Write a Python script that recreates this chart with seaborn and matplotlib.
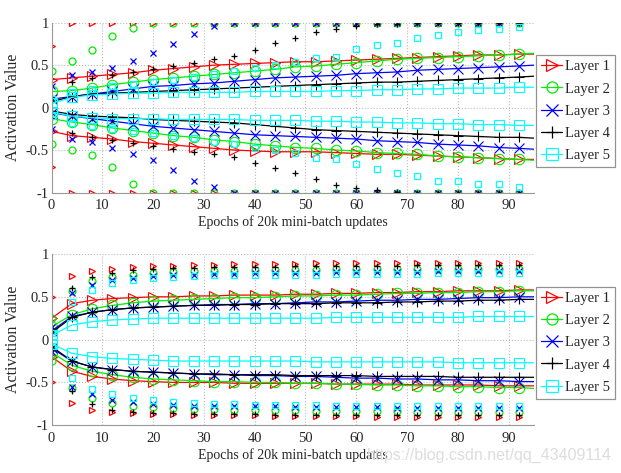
import matplotlib
matplotlib.use("Agg")
import matplotlib.pyplot as plt
from matplotlib.lines import Line2D
import seaborn as sns

# ─── data ───────────────────────────────────────────
LAYERS = ["Layer 1", "Layer 2", "Layer 3", "Layer 4", "Layer 5"]
COLORS = {"Layer 1": "#ff0000", "Layer 2": "#00ee00", "Layer 3": "#0000ff",
          "Layer 4": "#000000", "Layer 5": "#00ffff"}
MARKERS = {"Layer 1": ">", "Layer 2": "o", "Layer 3": "x", "Layer 4": "+", "Layer 5": "s"}

# marker epochs (every 4) ; std lines run on to the axis edge at 95
epochs = [0, 4, 8, 12, 16, 20, 24, 28, 32, 36, 40, 44, 48, 52, 56, 60, 64, 68, 72, 76, 80, 84, 88, 92]
line_epochs = epochs + [95]

# top panel: standard initialization
top_std_hi = {
    "Layer 1": [0.33, 0.35, 0.37, 0.39, 0.41, 0.44, 0.46, 0.48, 0.50, 0.51, 0.52, 0.53, 0.54, 0.54, 0.55, 0.56, 0.57, 0.58, 0.59, 0.60, 0.61, 0.62, 0.62, 0.63, 0.63],
    "Layer 2": [0.19, 0.20, 0.23, 0.27, 0.30, 0.33, 0.35, 0.37, 0.39, 0.41, 0.43, 0.45, 0.48, 0.49, 0.51, 0.53, 0.55, 0.57, 0.58, 0.59, 0.60, 0.61, 0.62, 0.63, 0.64],
    "Layer 3": [0.10, 0.13, 0.16, 0.19, 0.22, 0.25, 0.26, 0.28, 0.29, 0.31, 0.33, 0.35, 0.36, 0.37, 0.38, 0.40, 0.41, 0.42, 0.44, 0.45, 0.46, 0.47, 0.48, 0.49, 0.50],
    "Layer 4": [0.07, 0.13, 0.16, 0.17, 0.18, 0.19, 0.20, 0.21, 0.22, 0.23, 0.24, 0.25, 0.26, 0.27, 0.28, 0.29, 0.30, 0.30, 0.31, 0.32, 0.33, 0.34, 0.35, 0.36, 0.37],
    "Layer 5": [0.05, 0.12, 0.15, 0.16, 0.17, 0.17, 0.18, 0.18, 0.18, 0.18, 0.19, 0.19, 0.19, 0.19, 0.20, 0.20, 0.21, 0.21, 0.22, 0.22, 0.23, 0.23, 0.23, 0.24, 0.24],
}
top_std_lo = {
    "Layer 1": [-0.28, -0.33, -0.35, -0.37, -0.40, -0.42, -0.44, -0.46, -0.48, -0.50, -0.51, -0.52, -0.52, -0.52, -0.53, -0.54, -0.55, -0.55, -0.56, -0.57, -0.58, -0.59, -0.60, -0.61, -0.61],
    "Layer 2": [-0.13, -0.17, -0.20, -0.24, -0.27, -0.30, -0.33, -0.35, -0.38, -0.40, -0.43, -0.45, -0.47, -0.48, -0.50, -0.51, -0.53, -0.54, -0.55, -0.57, -0.58, -0.59, -0.60, -0.61, -0.62],
    "Layer 3": [-0.06, -0.10, -0.13, -0.16, -0.19, -0.22, -0.24, -0.26, -0.28, -0.30, -0.32, -0.33, -0.34, -0.35, -0.36, -0.37, -0.39, -0.40, -0.41, -0.43, -0.44, -0.45, -0.47, -0.48, -0.49],
    "Layer 4": [-0.04, -0.08, -0.10, -0.11, -0.12, -0.14, -0.15, -0.16, -0.17, -0.18, -0.20, -0.22, -0.24, -0.26, -0.27, -0.28, -0.29, -0.30, -0.31, -0.32, -0.33, -0.34, -0.35, -0.35, -0.36],
    "Layer 5": [-0.05, -0.10, -0.12, -0.13, -0.13, -0.13, -0.14, -0.14, -0.14, -0.14, -0.15, -0.15, -0.15, -0.16, -0.16, -0.17, -0.17, -0.18, -0.18, -0.19, -0.19, -0.20, -0.20, -0.21, -0.21],
}
top_pct_hi = {
    "Layer 1": [0.72, 1, 1, 1, 1, 1, 1, 1, 1, 1, 1, 1, 1, 1, 1, 1, 1, 1, 1, 1, 1, 1, 1, 1],
    "Layer 2": [0.43, 0.55, 0.68, 0.84, 0.94, 1, 1, 1, 1, 1, 1, 1, 1, 1, 1, 1, 1, 1, 1, 1, 1, 1, 1, 1],
    "Layer 3": [0.25, 0.38, 0.42, 0.47, 0.55, 0.64, 0.75, 0.87, 0.96, 1, 1, 1, 1, 1, 1, 1, 1, 1, 1, 1, 1, 1, 1, 1],
    "Layer 4": [0.12, 0.30, 0.35, 0.38, 0.42, 0.45, 0.49, 0.52, 0.57, 0.61, 0.68, 0.76, 0.82, 0.89, 0.93, 0.96, 0.98, 0.99, 1, 1, 1, 1, 1, 1],
    "Layer 5": [0.10, 0.18, 0.22, 0.25, 0.28, 0.30, 0.33, 0.36, 0.40, 0.43, 0.47, 0.50, 0.54, 0.58, 0.60, 0.69, 0.74, 0.76, 0.82, 0.86, 0.89, 0.91, 0.93, 0.95],
}
top_pct_lo = {
    "Layer 1": [-0.70, -1, -1, -1, -1, -1, -1, -1, -1, -1, -1, -1, -1, -1, -1, -1, -1, -1, -1, -1, -1, -1, -1, -1],
    "Layer 2": [-0.43, -0.50, -0.56, -0.70, -0.90, -1, -1, -1, -1, -1, -1, -1, -1, -1, -1, -1, -1, -1, -1, -1, -1, -1, -1, -1],
    "Layer 3": [-0.25, -0.37, -0.41, -0.48, -0.55, -0.62, -0.73, -0.86, -0.93, -1, -1, -1, -1, -1, -1, -1, -1, -1, -1, -1, -1, -1, -1, -1],
    "Layer 4": [-0.12, -0.30, -0.35, -0.38, -0.42, -0.45, -0.49, -0.52, -0.55, -0.58, -0.65, -0.71, -0.77, -0.84, -0.91, -0.95, -0.97, -0.99, -1, -1, -1, -1, -1, -1],
    "Layer 5": [-0.10, -0.18, -0.22, -0.25, -0.28, -0.30, -0.33, -0.36, -0.40, -0.43, -0.47, -0.50, -0.54, -0.59, -0.60, -0.66, -0.72, -0.77, -0.81, -0.87, -0.87, -0.90, -0.90, -0.93],
}

# bottom panel: normalized initialization
bot_std_hi = {
    "Layer 1": [0.25, 0.42, 0.46, 0.48, 0.49, 0.50, 0.50, 0.51, 0.51, 0.52, 0.52, 0.52, 0.53, 0.53, 0.54, 0.54, 0.55, 0.55, 0.56, 0.56, 0.57, 0.57, 0.57, 0.58, 0.58],
    "Layer 2": [0.15, 0.29, 0.36, 0.40, 0.43, 0.45, 0.46, 0.47, 0.48, 0.49, 0.49, 0.50, 0.51, 0.51, 0.52, 0.52, 0.53, 0.54, 0.54, 0.55, 0.55, 0.56, 0.56, 0.57, 0.57],
    "Layer 3": [0.10, 0.27, 0.32, 0.35, 0.37, 0.38, 0.39, 0.40, 0.41, 0.41, 0.42, 0.42, 0.43, 0.44, 0.44, 0.45, 0.46, 0.46, 0.47, 0.47, 0.48, 0.49, 0.49, 0.50, 0.50],
    "Layer 4": [0.08, 0.26, 0.32, 0.35, 0.37, 0.38, 0.39, 0.40, 0.40, 0.41, 0.41, 0.42, 0.42, 0.42, 0.43, 0.43, 0.43, 0.44, 0.44, 0.45, 0.45, 0.46, 0.46, 0.47, 0.47],
    "Layer 5": [0.05, 0.17, 0.21, 0.23, 0.24, 0.25, 0.25, 0.25, 0.25, 0.25, 0.25, 0.25, 0.25, 0.25, 0.26, 0.26, 0.26, 0.26, 0.26, 0.26, 0.26, 0.27, 0.27, 0.27, 0.27],
}
bot_std_lo = {
    "Layer 1": [-0.20, -0.37, -0.43, -0.46, -0.48, -0.49, -0.50, -0.50, -0.50, -0.51, -0.51, -0.51, -0.51, -0.51, -0.52, -0.52, -0.52, -0.52, -0.53, -0.53, -0.53, -0.53, -0.54, -0.54, -0.54],
    "Layer 2": [-0.15, -0.30, -0.37, -0.41, -0.44, -0.46, -0.47, -0.48, -0.49, -0.49, -0.50, -0.50, -0.51, -0.51, -0.52, -0.52, -0.53, -0.53, -0.54, -0.54, -0.55, -0.55, -0.56, -0.56, -0.57],
    "Layer 3": [-0.10, -0.25, -0.32, -0.35, -0.37, -0.38, -0.39, -0.40, -0.41, -0.41, -0.42, -0.42, -0.43, -0.43, -0.44, -0.45, -0.45, -0.46, -0.46, -0.47, -0.47, -0.48, -0.48, -0.49, -0.49],
    "Layer 4": [-0.08, -0.25, -0.32, -0.35, -0.37, -0.38, -0.39, -0.40, -0.40, -0.41, -0.41, -0.41, -0.42, -0.42, -0.42, -0.42, -0.43, -0.43, -0.43, -0.43, -0.44, -0.44, -0.44, -0.44, -0.44],
    "Layer 5": [-0.05, -0.16, -0.20, -0.22, -0.23, -0.24, -0.25, -0.25, -0.25, -0.25, -0.25, -0.25, -0.25, -0.26, -0.26, -0.26, -0.26, -0.26, -0.26, -0.26, -0.27, -0.27, -0.27, -0.27, -0.27],
}
bot_pct_hi = {
    "Layer 1": [0.50, 0.74, 0.80, 0.83, 0.85, 0.86, 0.86, 0.87, 0.87, 0.88, 0.88, 0.88, 0.88, 0.89, 0.89, 0.89, 0.89, 0.90, 0.90, 0.90, 0.90, 0.90, 0.90, 0.90],
    "Layer 2": [0.25, 0.57, 0.68, 0.73, 0.76, 0.78, 0.79, 0.80, 0.80, 0.80, 0.81, 0.81, 0.81, 0.81, 0.82, 0.82, 0.82, 0.82, 0.82, 0.83, 0.83, 0.83, 0.83, 0.83],
    "Layer 3": [0.15, 0.55, 0.64, 0.70, 0.72, 0.74, 0.75, 0.76, 0.77, 0.77, 0.78, 0.78, 0.78, 0.78, 0.79, 0.79, 0.79, 0.79, 0.79, 0.80, 0.80, 0.80, 0.80, 0.80],
    "Layer 4": [0.12, 0.60, 0.73, 0.78, 0.81, 0.83, 0.84, 0.84, 0.85, 0.85, 0.85, 0.85, 0.86, 0.86, 0.86, 0.86, 0.86, 0.86, 0.87, 0.87, 0.87, 0.87, 0.87, 0.87],
    "Layer 5": [0.08, 0.44, 0.58, 0.66, 0.70, 0.72, 0.73, 0.74, 0.75, 0.75, 0.76, 0.76, 0.76, 0.76, 0.77, 0.77, 0.77, 0.77, 0.77, 0.78, 0.78, 0.78, 0.78, 0.78],
}
bot_pct_lo = {
    "Layer 1": [-0.50, -0.74, -0.82, -0.85, -0.86, -0.87, -0.87, -0.88, -0.88, -0.88, -0.88, -0.89, -0.89, -0.89, -0.89, -0.89, -0.90, -0.90, -0.90, -0.90, -0.90, -0.90, -0.90, -0.90],
    "Layer 2": [-0.25, -0.57, -0.68, -0.74, -0.77, -0.79, -0.80, -0.81, -0.81, -0.82, -0.82, -0.82, -0.82, -0.83, -0.83, -0.83, -0.83, -0.83, -0.84, -0.84, -0.84, -0.84, -0.84, -0.84],
    "Layer 3": [-0.15, -0.55, -0.64, -0.70, -0.73, -0.75, -0.76, -0.77, -0.77, -0.78, -0.78, -0.78, -0.79, -0.79, -0.79, -0.79, -0.79, -0.80, -0.80, -0.80, -0.80, -0.80, -0.80, -0.80],
    "Layer 4": [-0.12, -0.60, -0.75, -0.82, -0.84, -0.86, -0.86, -0.87, -0.87, -0.87, -0.87, -0.88, -0.88, -0.88, -0.88, -0.88, -0.88, -0.88, -0.88, -0.88, -0.88, -0.88, -0.88, -0.88],
    "Layer 5": [-0.08, -0.45, -0.58, -0.64, -0.68, -0.71, -0.73, -0.74, -0.75, -0.75, -0.76, -0.76, -0.76, -0.76, -0.77, -0.77, -0.77, -0.77, -0.77, -0.77, -0.77, -0.77, -0.77, -0.77],
}

Y_TICKS = [-1, -0.5, 0, 0.5, 1]
Y_TICK_LABELS = ["-1", "-0.5", "0", "0.5", "1"]
X_TICKS = [0, 10, 20, 30, 40, 50, 60, 70, 80, 90]

# ─── style ──────────────────────────────────────────
sns.set_style("white")
plt.rcParams["font.family"] = ["Liberation Serif", "DejaVu Serif"]
plt.rcParams["axes.unicode_minus"] = False

fig = plt.figure(figsize=(6.21, 4.73), dpi=100)
ax_top = fig.add_axes([0.083, 0.593, 0.777, 0.359])
ax_bot = fig.add_axes([0.083, 0.101, 0.777, 0.362])


def draw_panel(ax, std_hi, std_lo, pct_hi, pct_lo):
    for layer in LAYERS:
        c, m = COLORS[layer], MARKERS[layer]
        # std band edges: line + marker every 4 epochs
        for vals in (std_hi[layer], std_lo[layer]):
            sns.lineplot(x=line_epochs, y=vals, ax=ax, color=c, linewidth=0.9,
                         marker=m, markersize=7.5, markerfacecolor="none",
                         markeredgecolor=c, markeredgewidth=0.8,
                         markevery=list(range(len(epochs))), errorbar=None,
                         legend=False)
        # 98 percentiles: markers only
        for vals in (pct_hi[layer], pct_lo[layer]):
            sns.lineplot(x=epochs, y=vals, ax=ax, color=c, linestyle="none",
                         marker=m, markersize=5, markerfacecolor="none",
                         markeredgecolor=c, markeredgewidth=0.9,
                         errorbar=None, legend=False)

    ax.set_xlim(0, 95)
    ax.set_ylim(-1, 1)
    ax.set_xticks(X_TICKS)
    ax.set_yticks(Y_TICKS)
    ax.set_yticklabels(Y_TICK_LABELS)
    ax.tick_params(labelsize=10.5, direction="in", length=3, color="#888888")
    ax.tick_params(axis="x", pad=5)
    ax.tick_params(axis="y", pad=2)
    ax.grid(True, linestyle=":", color="#bbbbbb", linewidth=0.8)
    for side in ("top", "right"):
        ax.spines[side].set_visible(False)
    for side in ("left", "bottom"):
        ax.spines[side].set_color("#999999")
        ax.spines[side].set_linewidth(0.8)
    ax.set_xlabel("Epochs of 20k mini-batch updates", fontsize=10, labelpad=2)
    ax.set_ylabel("Activation Value", fontsize=11.5, labelpad=3)

    handles = [Line2D([0], [0], color=COLORS[l], marker=MARKERS[l], markersize=8,
                      markerfacecolor="none", markeredgewidth=0.9, linewidth=0.9)
               for l in LAYERS]
    leg = ax.legend(handles, LAYERS, loc="upper left", bbox_to_anchor=(1.003, 0.81),
                    borderaxespad=0, fontsize=10.5, frameon=True, fancybox=False,
                    handlelength=1.5, handletextpad=0.15, labelspacing=0.62,
                    borderpad=0.35)
    leg.get_frame().set_edgecolor("#777777")
    leg.get_frame().set_linewidth(0.9)


draw_panel(ax_top, top_std_hi, top_std_lo, top_pct_hi, top_pct_lo)
draw_panel(ax_bot, bot_std_hi, bot_std_lo, bot_pct_hi, bot_pct_lo)

fig.text(0.985, 0.038, "https://blog.csdn.net/qq_43409114", ha="right", va="center",
         fontsize=11.5, color="#dddddd", family="Liberation Sans")

fig.savefig("out.png", dpi=100)
